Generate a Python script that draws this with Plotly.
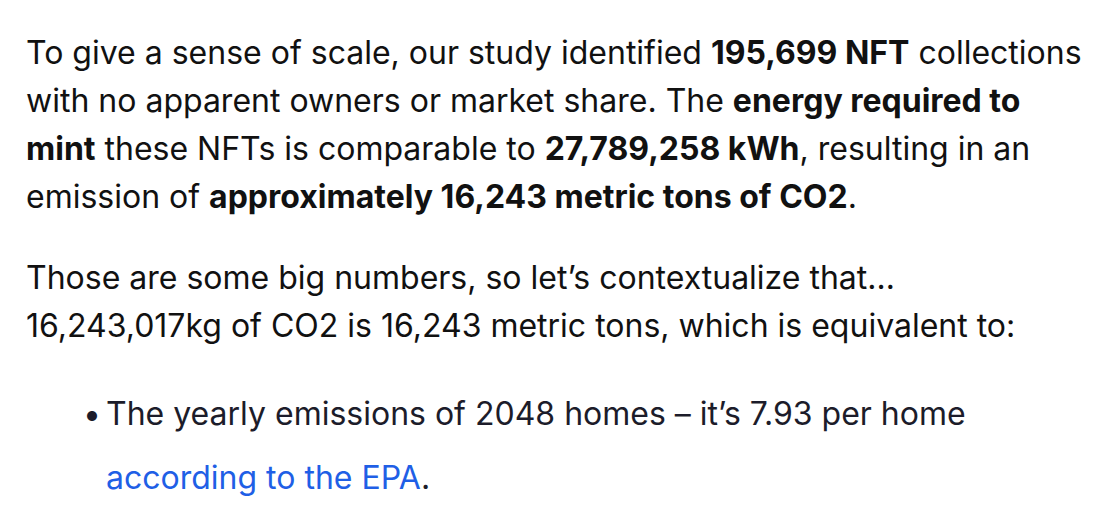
import plotly.graph_objects as go

W, H = 1108, 514

para1 = [
    "To give a sense of scale, our study identified <b>195,699 NFT</b> collections",
    "with no apparent owners or market share. The <b>energy required to</b>",
    "<b>mint</b> these NFTs is comparable to <b>27,789,258 kWh</b>, resulting in an",
    "emission of <b>approximately 16,243 metric tons of CO2</b>.",
]
para2 = [
    "Those are some big numbers, so let’s contextualize that…",
    "16,243,017kg of CO2 is 16,243 metric tons, which is equivalent to:",
]
bullet = "The yearly emissions of 2048 homes – it’s 7.93 per home"
link = "according to the EPA"

para1_y = [52, 100, 148, 196]
para2_y = [277, 325]
bullet_y = 413
link_y = 477

font = dict(family="Inter, Noto Sans, sans-serif", size=32, color="#111111")
dx, dy = -11, -8
anns = []
for txt, y in zip(para1 + para2, para1_y + para2_y):
    anns.append(dict(x=27 + dx, y=y + dy, text=txt, font=font))
anns.append(dict(x=107 + dx, y=bullet_y + dy, text=bullet, font=dict(font, color="#1c1c2a")))
anns.append(dict(x=84 + dx, y=bullet_y + dy, text="•", font=dict(font, color="#1c1c2a")))
anns.append(dict(x=107 + dx, y=link_y + dy,
                 text=f"<span style='color:#1f5fe6'>{link}</span>.",
                 font=dict(font, color="#1c1c2a")))
for a in anns:
    a.update(xref="x", yref="y", xanchor="left", yanchor="middle", showarrow=False)

fig = go.Figure()
fig.update_layout(
    width=W, height=H, margin=dict(l=0, r=0, t=0, b=0),
    paper_bgcolor="white", plot_bgcolor="white",
    xaxis=dict(range=[0, W], visible=False),
    yaxis=dict(range=[H, 0], visible=False),
    annotations=anns, showlegend=False,
)
fig.write_html("out.html")
